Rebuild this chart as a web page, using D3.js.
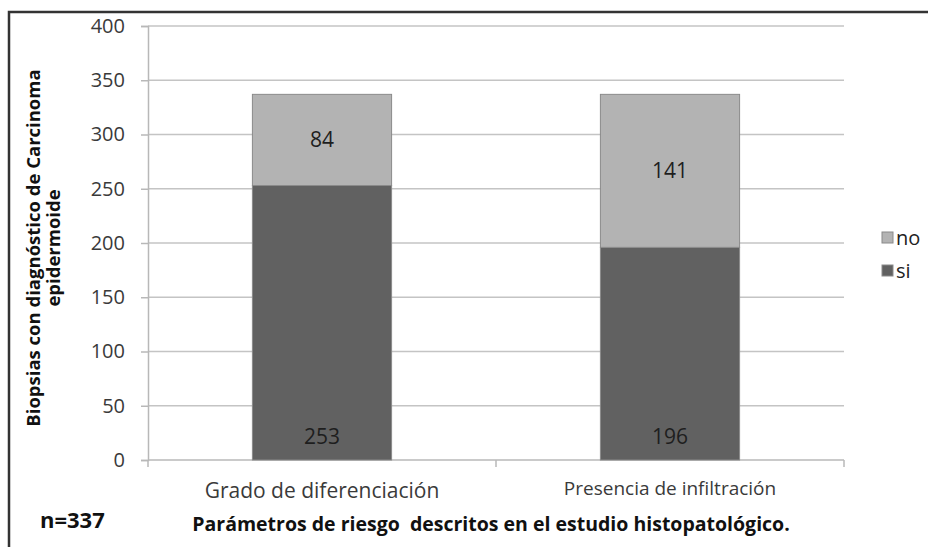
<!DOCTYPE html>
<html>
<head>
<meta charset="utf-8">
<script src="https://cdn.jsdelivr.net/npm/d3@7"></script>
<style>
  body { margin: 0; background: #fff; }
  text { font-family: "Open Sans", "Liberation Sans", sans-serif; }
</style>
</head>
<body>
<div id="chart"></div>
<script>
// data
const categories = ["Grado de diferenciación", "Presencia de infiltración"];
const siValues = [253, 196];
const noValues = [84, 141];
const yTicks = [0, 50, 100, 150, 200, 250, 300, 350, 400];

const W = 928, H = 547;
const margin = {top: 26, right: 84, bottom: 87, left: 148};

const svg = d3.select("#chart").append("svg")
  .attr("width", W).attr("height", H);

// outer frame (left + top visible)
svg.append("path")
  .attr("d", `M9,${H} L9,12 L${W},12`)
  .attr("fill", "none").attr("stroke", "#333").attr("stroke-width", 2.5);

const x = d3.scaleBand()
  .domain(categories)
  .range([margin.left, W - margin.right])
  .paddingInner(0.6).paddingOuter(0.3);

const y = d3.scaleLinear()
  .domain([0, 400])
  .range([H - margin.bottom, margin.top]);

// gridlines
svg.append("g")
  .selectAll("line")
  .data(yTicks.slice(1))
  .join("line")
    .attr("x1", margin.left).attr("x2", W - margin.right)
    .attr("y1", d => y(d)).attr("y2", d => y(d))
    .attr("stroke", "#c4c4c4").attr("stroke-width", 1.5);

// y axis
const yAxis = svg.append("g")
  .attr("transform", `translate(${margin.left},0)`)
  .call(d3.axisLeft(y).tickValues(yTicks).tickSize(7).tickPadding(16));
yAxis.select(".domain").attr("stroke", "#b8b8b8").attr("stroke-width", 1.5);
yAxis.selectAll(".tick line").attr("stroke", "#b8b8b8").attr("stroke-width", 1.5);
yAxis.selectAll(".tick text")
  .style("font-size", "20px").attr("fill", "#3a3a3a");

// x axis with boundary ticks
const x0 = margin.left, x1 = W - margin.right, yb = y(0);
svg.append("line")
  .attr("x1", x0).attr("x2", x1).attr("y1", yb).attr("y2", yb)
  .attr("stroke", "#b8b8b8").attr("stroke-width", 1.5);
const bounds = [x0, (x0 + x1) / 2, x1];
svg.append("g").selectAll("line")
  .data(bounds)
  .join("line")
    .attr("x1", d => d).attr("x2", d => d)
    .attr("y1", yb).attr("y2", yb + 7)
    .attr("stroke", "#b8b8b8").attr("stroke-width", 1.5);

// stacked bars
const rows = categories.map((c, i) => ({cat: c, si: siValues[i], no: noValues[i]}));
const series = d3.stack().keys(["si", "no"])(rows);
const colors = {si: "#616161", no: "#b3b3b3"};

svg.append("g")
  .selectAll("g")
  .data(series)
  .join("g")
    .attr("fill", d => colors[d.key])
  .selectAll("rect")
  .data(d => d)
  .join("rect")
    .attr("x", d => x(d.data.cat))
    .attr("width", x.bandwidth())
    .attr("y", d => y(d[1]))
    .attr("height", d => y(d[0]) - y(d[1]))
    .attr("stroke", "#8a8a8a").attr("stroke-width", 1);

// value labels
svg.append("g").selectAll("text")
  .data(rows)
  .join("text")
    .attr("x", d => x(d.cat) + x.bandwidth() / 2)
    .attr("y", y(0) - 16)
    .attr("text-anchor", "middle")
    .style("font-size", "21px").attr("fill", "#1e1e1e")
    .text(d => d.si);
svg.append("g").selectAll("text")
  .data(rows)
  .join("text")
    .attr("x", d => x(d.cat) + x.bandwidth() / 2)
    .attr("y", d => y(d.si + d.no / 2) + 7)
    .attr("text-anchor", "middle")
    .style("font-size", "21px").attr("fill", "#1e1e1e")
    .text(d => d.no);

// category labels
svg.append("g").selectAll("text")
  .data(categories)
  .join("text")
    .attr("x", d => x(d) + x.bandwidth() / 2)
    .attr("y", (d, i) => yb + (i === 0 ? 38 : 35))
    .attr("text-anchor", "middle")
    .style("font-size", (d, i) => i === 0 ? "21px" : "19px")
    .attr("fill", "#3a3a3a")
    .text(d => d);

// axis titles
svg.append("text")
  .attr("x", 491).attr("y", 531)
  .attr("text-anchor", "middle")
  .style("white-space", "pre")
  .style("font-size", "19.5px").style("font-weight", "bold").attr("fill", "#111")
  .text("Parámetros de riesgo  descritos en el estudio histopatológico.");

const yt = svg.append("text")
  .attr("transform", "translate(40,248) rotate(-90)")
  .attr("text-anchor", "middle")
  .style("font-size", "18.5px").style("font-weight", "bold").attr("fill", "#111");
yt.append("tspan").attr("x", 0).attr("dy", 0).text("Biopsias con diagnóstico de Carcinoma");
yt.append("tspan").attr("x", 0).attr("dy", 20).text("epidermoide");

svg.append("text")
  .attr("x", 40).attr("y", 528)
  .style("font-size", "22px").style("font-weight", "bold").attr("fill", "#111")
  .text("n=337");

// legend
const legendKeys = ["no", "si"];
const lg = svg.append("g").selectAll("g")
  .data(legendKeys)
  .join("g")
    .attr("transform", (d, i) => `translate(882,${238 + i * 33})`);
lg.append("rect")
  .attr("x", 0).attr("y", -6).attr("width", 11).attr("height", 11)
  .attr("fill", d => colors[d]).attr("stroke", "#8a8a8a");
lg.append("text")
  .attr("x", 14).attr("y", 7)
  .style("font-size", "20px").attr("fill", "#222")
  .text(d => d);
</script>
</body>
</html>
